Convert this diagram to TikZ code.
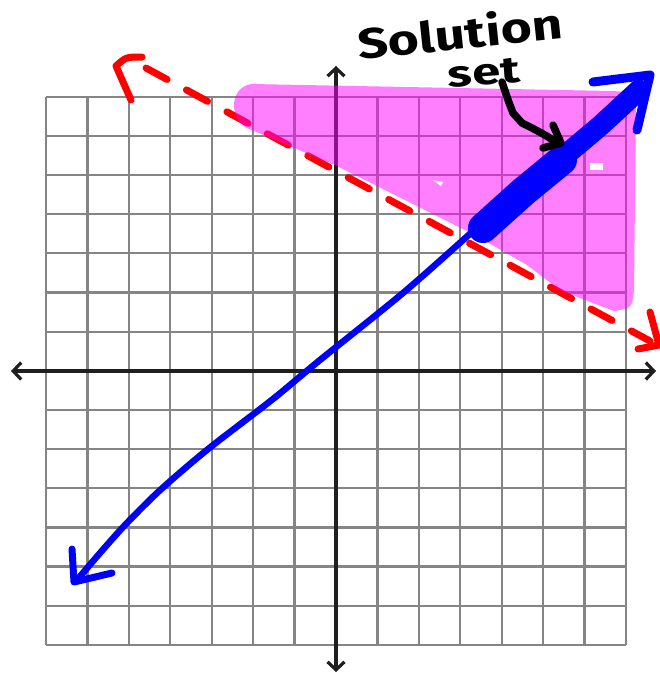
\documentclass[tikz,border=0pt]{standalone}
\usepackage{fontspec}
\newfontfamily\handfont{Fira Sans}
\usetikzlibrary{arrows.meta}
\definecolor{mag}{RGB}{255,0,255}
\definecolor{pureblue}{RGB}{0,0,255}
\definecolor{purered}{RGB}{255,0,0}
\tikzset{
  gridline/.style={draw=black!48, line width=2.3pt},
  axisline/.style={draw=black!88, line width=3.2pt, {Straight Barb[length=8pt,width=17pt]}-{Straight Barb[length=8pt,width=17pt]}},
  reddash/.style={draw=purered, line width=7pt, line cap=round, dash pattern=on 24pt off 22pt},
  redpen/.style={draw=purered, line width=7pt, line cap=round, line join=round},
  bluepen/.style={draw=pureblue, line width=6.5pt, line cap=round, line join=round},
  blackpen/.style={draw=black, line width=7.5pt, line cap=round, line join=round},
  shadearea/.style={fill=mag, fill opacity=0.5},
  hand/.style={font=\handfont\bfseries\fontsize{46}{46}\selectfont, inner sep=0pt}
}
\begin{document}
\begin{tikzpicture}[x=1pt, y=-1pt]
\useasboundingbox (0,0) rectangle (660,673);
\fill[white] (0,0) rectangle (660,673);
% grid
\foreach \i in {0,...,14} \draw[gridline] ({46+41.43*\i},96.7) -- ({46+41.43*\i},645);
\foreach \j in {0,...,14} \draw[gridline] (46,{96.7+39.16*\j}) -- (626,{96.7+39.16*\j});
% axes
\coordinate (xl) at (11,371);
\coordinate (xr) at (656,371);
\coordinate (yt) at (336,66);
\coordinate (yb) at (336,672);
\draw[axisline] (xl) -- (xr);
\draw[axisline] (yt) -- (yb);
% red dashed boundary
\coordinate (rs) at (146,68);
\coordinate (re) at (650,341);
\draw[reddash] (rs) -- (re);
\draw[redpen] (142,57) .. controls (126,57) .. (116,66) -- (131,100);
\draw[redpen] (650,312) -- (659,345) -- (638,349);
% thin blue line
\draw[bluepen] plot[smooth, tension=0.5] coordinates {(77,580) (100,553) (125,525) (157,493) (190,464) (217,442) (273,399) (320,360) (403,293) (472,232)};
\draw[bluepen, line width=7pt] (72,549) -- (74,582) -- (112,573);
% shaded region
\path[shadearea] (252,84) -- (612,91) .. controls (630,92) .. (636,106)
  -- (634,290) .. controls (632,308) .. (614,311)
  .. controls (585,300) .. (560,290) -- (527,265) -- (473,234) -- (337,166) -- (247,128)
  .. controls (228,118) and (230,86) .. (252,84) -- cycle;
% white specks
\fill[white] (590,163) rectangle (603,170);
\fill[white] (433,180) -- (443,182) -- (441,186) -- cycle;
% thick blue solution set
\draw[pureblue, line width=30pt, line cap=round, line join=round] (483,228) -- (523,192) -- (562,160);
\draw[pureblue, line width=21pt, line cap=round, line join=round] (550,168) -- (600,126) -- (639,90);
\draw[bluepen, line width=9pt] (593,82) -- (650,75) -- (637,130);
% annotation arrow
\coordinate (as) at (502,82);
\coordinate (ae) at (558,143);
\draw[blackpen] (as) .. controls (508,100) .. (513,113) -- (522,123) .. controls (540,132) .. (ae);
\draw[blackpen] (553,125) -- (561,143) -- (543,148);
% label
\node[hand, rotate=6] (lab1) at (460,32) {\scalebox{1.16}[0.92]{Solution}};
\node[hand, rotate=4] (lab2) at (484,73) {\scalebox{1.1}[0.8]{set}};
\end{tikzpicture}
\end{document}
